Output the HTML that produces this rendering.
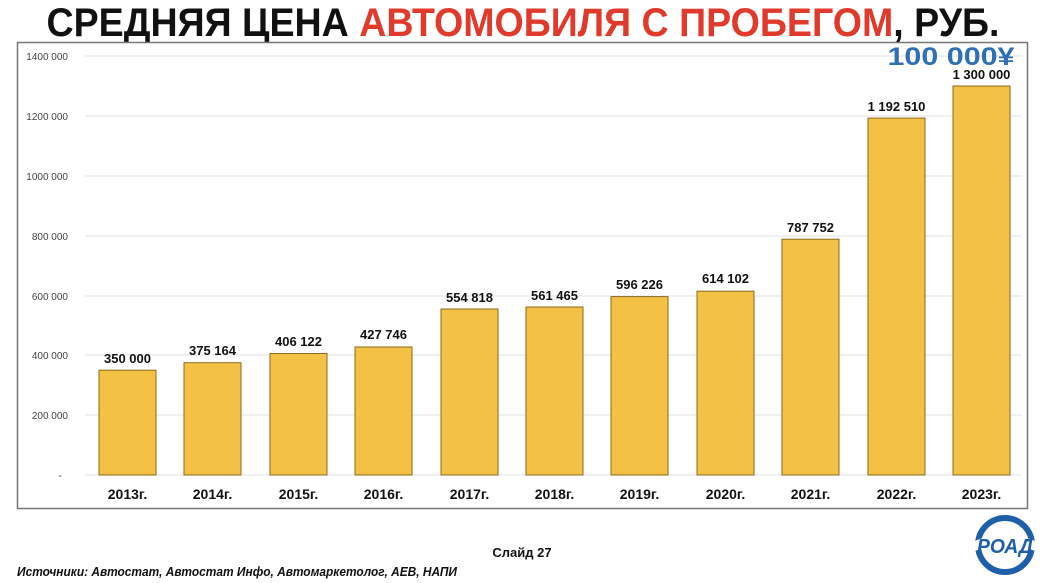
<!DOCTYPE html>
<html><head><meta charset="utf-8"><style>
body{margin:0;background:#fff;width:1046px;height:583px;overflow:hidden}
svg{display:block}
</style></head><body>
<svg width="1046" height="583" viewBox="0 0 1046 583" font-family="'Liberation Sans', sans-serif">
<text x="523" y="36" text-anchor="middle" font-size="40" font-weight="bold" textLength="953" lengthAdjust="spacingAndGlyphs"><tspan fill="#111">СРЕДНЯЯ ЦЕНА </tspan><tspan fill="#e03a2c">АВТОМОБИЛЯ С ПРОБЕГОМ</tspan><tspan fill="#111">, РУБ.</tspan></text>
<rect x="17.5" y="42.5" width="1010" height="466" fill="#fff" stroke="#777" stroke-width="1.5"/>
<g stroke="#e2e2e2" stroke-width="1">
<line x1="85" x2="1022" y1="56" y2="56"/><line x1="85" x2="1022" y1="116" y2="116"/>
<line x1="85" x2="1022" y1="176" y2="176"/><line x1="85" x2="1022" y1="236" y2="236"/>
<line x1="85" x2="1022" y1="296" y2="296"/><line x1="85" x2="1022" y1="355" y2="355"/>
<line x1="85" x2="1022" y1="415" y2="415"/><line x1="85" x2="1022" y1="475" y2="475"/>
</g>
<g font-size="10" fill="#444" text-anchor="end">
<text x="68" y="60">1400 000</text><text x="68" y="120">1200 000</text>
<text x="68" y="180">1000 000</text><text x="68" y="240">800 000</text>
<text x="68" y="300">600 000</text><text x="68" y="359">400 000</text>
<text x="68" y="419">200 000</text><text x="62" y="479">-</text>
</g>
<g fill="#f3c244" stroke="#8a6a1e" stroke-width="1">
<rect x="99" y="370.2" width="57" height="104.8"/>
<rect x="184" y="362.7" width="57" height="112.3"/>
<rect x="270" y="353.5" width="57" height="121.5"/>
<rect x="355" y="347" width="57" height="128"/>
<rect x="441" y="309" width="57" height="166"/>
<rect x="526" y="307" width="57" height="168"/>
<rect x="611" y="296.6" width="57" height="178.4"/>
<rect x="697" y="291.2" width="57" height="183.8"/>
<rect x="782" y="239.2" width="57" height="235.8"/>
<rect x="868" y="118.1" width="57" height="356.9"/>
<rect x="953" y="86" width="57" height="389"/>
</g>
<g font-size="13" font-weight="bold" fill="#111" text-anchor="middle">
<text x="127.5" y="363">350 000</text><text x="212.5" y="355">375 164</text>
<text x="298.5" y="346">406 122</text><text x="383.5" y="339">427 746</text>
<text x="469.5" y="302">554 818</text><text x="554.5" y="300">561 465</text>
<text x="639.5" y="289">596 226</text><text x="725.5" y="283">614 102</text>
<text x="810.5" y="232">787 752</text><text x="896.5" y="111">1 192 510</text>
<text x="981.5" y="79">1 300 000</text>
</g>
<g font-size="14" font-weight="bold" fill="#111" text-anchor="middle">
<text x="127.5" y="499">2013г.</text><text x="212.5" y="499">2014г.</text>
<text x="298.5" y="499">2015г.</text><text x="383.5" y="499">2016г.</text>
<text x="469.5" y="499">2017г.</text><text x="554.5" y="499">2018г.</text>
<text x="639.5" y="499">2019г.</text><text x="725.5" y="499">2020г.</text>
<text x="810.5" y="499">2021г.</text><text x="896.5" y="499">2022г.</text>
<text x="981.5" y="499">2023г.</text>
</g>
<text x="951" y="65" text-anchor="middle" font-size="25" font-weight="bold" fill="#2e6fb5" textLength="127" lengthAdjust="spacingAndGlyphs">100 000¥</text>
<text x="522" y="557" text-anchor="middle" font-size="13" font-weight="bold" fill="#111">Слайд 27</text>
<text x="17" y="576" font-size="13" font-weight="bold" font-style="italic" fill="#111" textLength="440" lengthAdjust="spacingAndGlyphs">Источники: Автостат, Автостат Инфо, Автомаркетолог, АЕВ, НАПИ</text>
<g transform="translate(1005,545)">
<circle r="27" fill="none" stroke="#1f5ea8" stroke-width="6"/>
<path d="M-30,-4 Q0,-18 30,-4 L30,6 Q0,-6 -30,6 Z" fill="#fff"/>
<text x="0" y="8" text-anchor="middle" font-size="20" font-weight="bold" font-style="italic" fill="#1f5ea8" textLength="56" lengthAdjust="spacingAndGlyphs">РОАД</text>
</g>
</svg>
</body></html>
